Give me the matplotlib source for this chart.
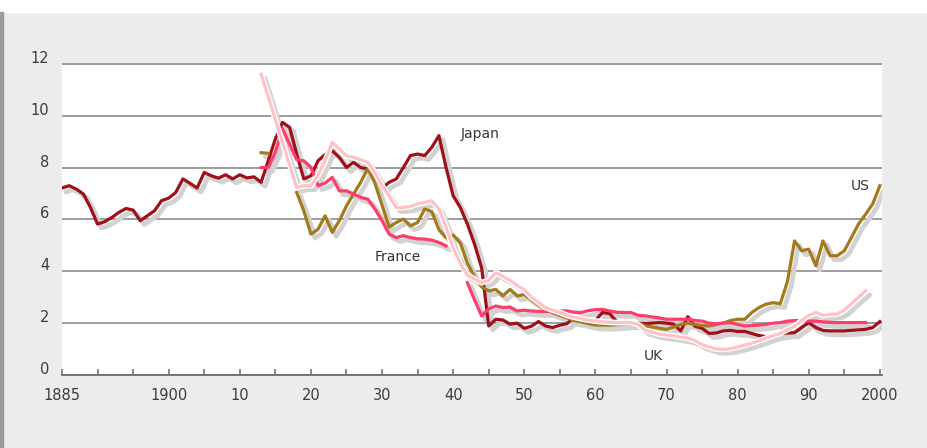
import numpy as np
import matplotlib
matplotlib.use("Agg")
import matplotlib.pyplot as plt
import matplotlib.transforms as mtransforms
import matplotlib.patheffects as pe
from matplotlib.patches import Rectangle

nan = np.nan

# Japan, yearly 1885-2000
japan_years = list(range(1885, 2001))
japan = [7.21, 7.30, 7.17, 6.98, 6.46, 5.82, 5.91, 6.07, 6.27, 6.42,   # 1885-94
         6.36, 5.95, 6.14, 6.33, 6.72, 6.82, 7.04, 7.56, 7.39, 7.21,   # 1895-04
         7.81, 7.68, 7.59, 7.72, 7.56, 7.72, 7.60, 7.64, 7.43, 8.26,   # 1905-14
         9.10, 9.74, 9.55, 8.52, 7.56, 7.68, 8.26, 8.50, 8.65, 8.39,   # 1915-24
         8.00, 8.20, 8.00, 7.95, 7.70, 7.20, 7.43, 7.56, 8.00, 8.46,   # 1925-34
         8.52, 8.46, 8.78, 9.23, 8.00, 6.91, 6.46, 5.82, 5.05, 4.14,   # 1935-44
         1.89, 2.15, 2.12, 1.96, 2.00, 1.80, 1.88, 2.06, 1.89, 1.83,   # 1945-54
         1.92, 1.98, 2.22, 2.15, 2.12, 2.10, 2.41, 2.37, 2.05, 2.02,   # 1955-64
         2.02, 2.00, 1.98, 2.00, 2.02, 2.00, 1.96, 1.70, 2.25, 1.88,   # 1965-74
         1.80, 1.60, 1.62, 1.70, 1.72, 1.68, 1.68, 1.60, 1.52, 1.48,   # 1975-84
         1.52, 1.58, 1.62, 1.63, 1.83, 2.02, 1.83, 1.72, 1.70, 1.70,   # 1985-94
         1.70, 1.72, 1.74, 1.76, 1.83, 2.06]                           # 1995-00

# US, yearly 1913-2000
us_years = list(range(1913, 2001))
us = [8.57, 8.55, nan, nan, nan, 7.04, 6.33, 5.43, 5.62, 6.14,        # 1913-22
      5.50, 5.95, 6.52, 6.98, 7.43, 7.97, 7.40, 6.55, 5.70, 5.88,     # 1923-32
      6.01, 5.75, 5.88, 6.40, 6.30, 5.60, 5.30, 5.40, 5.10, 4.30,     # 1933-42
      3.80, 3.40, 3.24, 3.30, 3.05, 3.30, 3.05, 3.10, 2.90, 2.70,     # 1943-52
      2.55, 2.40, 2.30, 2.20, 2.10, 2.05, 1.98, 1.93, 1.92, 1.92,     # 1953-62
      1.94, 1.96, 1.98, 2.00, 1.90, 1.85, 1.80, 1.76, 1.85, 1.95,     # 1963-72
      2.00, 1.95, 1.90, 1.89, 1.95, 2.00, 2.10, 2.15, 2.15, 2.41,     # 1973-82
      2.60, 2.73, 2.79, 2.75, 3.60, 5.17, 4.79, 4.85, 4.21, 5.17,     # 1983-92
      4.60, 4.60, 4.79, 5.30, 5.82, 6.20, 6.60, 7.30]                 # 1993-00

# France, yearly 1913-1998
france_years = list(range(1913, 1999))
france = [8.00, 8.00, 8.60, 9.50, 8.90, 8.30, 8.26, 8.00, 7.30, 7.40,  # 1913-22
          7.62, 7.10, 7.10, 6.98, 6.85, 6.78, 6.40, 5.95, 5.43, 5.30,  # 1923-32
          5.37, 5.30, 5.25, 5.24, 5.20, 5.11, 4.98, nan, nan, 3.56,    # 1933-42
          2.90, 2.28, 2.55, 2.66, 2.60, 2.62, 2.47, 2.50, 2.47, 2.45,  # 1943-52
          2.45, 2.45, 2.47, 2.47, 2.42, 2.41, 2.48, 2.52, 2.53, 2.47,  # 1953-62
          2.42, 2.41, 2.41, 2.30, 2.28, 2.24, 2.20, 2.15, 2.15, 2.15,  # 1963-72
          2.15, 2.10, 2.08, 2.00, 1.98, 2.00, 2.02, 1.95, 1.89, 1.90,  # 1973-82
          1.92, 1.95, 2.00, 2.02, 2.08, 2.10, 2.10, 2.08, 2.08, 2.05,  # 1983-92
          2.03, 2.02, 2.02, 2.02, 2.02, 2.02]                          # 1993-98

# UK, 1913 then yearly 1918-1998
uk_years = [1913] + list(range(1918, 1999))
uk = [11.60,                                                          # 1913
      7.23, 7.30, 7.30, 7.70, 8.26, 8.97, 8.71, 8.45, 8.39, 8.30,     # 1918-27
      8.20, 7.80, 7.30, 6.90, 6.46, 6.46, 6.50, 6.60, 6.65, 6.72,     # 1928-37
      6.40, 5.70, 4.90, 4.30, 3.85, 3.70, 3.56, 3.65, 3.95, 3.80,     # 1938-47
      3.65, 3.45, 3.28, 3.00, 2.80, 2.60, 2.50, 2.41, 2.30, 2.23,     # 1948-57
      2.17, 2.12, 2.08, 2.05, 2.03, 2.02, 2.02, 2.02, 1.95, 1.72,     # 1958-67
      1.65, 1.58, 1.54, 1.51, 1.46, 1.42, 1.33, 1.17, 1.08, 1.00,     # 1968-77
      0.99, 1.02, 1.08, 1.15, 1.23, 1.32, 1.42, 1.52, 1.60, 1.75,     # 1978-87
      1.88, 2.10, 2.30, 2.41, 2.30, 2.34, 2.35, 2.50, 2.75, 3.00,     # 1988-97
      3.24]                                                           # 1998

series = [
    ("Japan", japan_years, japan, "#a0101a"),
    ("US", us_years, us, "#a37a1c"),
    ("France", france_years, france, "#ff3d6d"),
    ("UK", uk_years, uk, "#ffc2c6"),
]

y_ticks = [0, 2, 4, 6, 8, 10, 12]
x_label_years = [1885, 1900, 1910, 1920, 1930, 1940, 1950, 1960, 1970, 1980, 1990, 2000]
x_labels = ["1885", "1900", "10", "20", "30", "40", "50", "60", "70", "80", "90", "2000"]
x_minor_years = list(range(1890, 2000, 5))

# line label positions (year, value)
name_pos = {"Japan": (1943.8, 9.3), "France": (1932.2, 4.55),
            "US": (1997.2, 7.3), "UK": (1968.1, 0.73)}

bg = "#ececec"
fig = plt.figure(figsize=(9.28, 4.48), dpi=100, facecolor=bg)
fig.patches.append(Rectangle((0, 1 - 12 / 448), 1, 12 / 448, transform=fig.transFigure,
                             color="white", zorder=0))
fig.patches.append(Rectangle((0, 0), 3 / 928, 1 - 12 / 448, transform=fig.transFigure,
                             color="#9c9c9c", zorder=0))

ax = fig.add_axes([62 / 928, 73 / 448, 820 / 928, 312 / 448])
ax.set_facecolor("white")
ax.set_xlim(1885, 2000.3)
ax.set_ylim(0, 12.03)

# soft drop shadows first, under every line
shadow_tr = mtransforms.offset_copy(ax.transData, fig=fig, x=4, y=-4, units="dots")
for name, yrs, vals, col in series:
    ax.plot(yrs, vals, color="#d2d2d2", lw=3.4, transform=shadow_tr,
            solid_capstyle="round", solid_joinstyle="round", zorder=1.5)

for i, (name, yrs, vals, col) in enumerate(series):
    kw = dict(color=col, lw=2.3, solid_joinstyle="round", zorder=2 + i)
    if name == "UK":
        kw["path_effects"] = [pe.Stroke(linewidth=4.2, foreground="white"), pe.Normal()]
    ax.plot(yrs, vals, **kw)

for name, (x, y) in name_pos.items():
    ax.text(x, y, name, ha="center", va="center", fontsize=10, color="#333333", zorder=10)

# grid and axes
ax.set_yticks(y_ticks)
ax.set_yticklabels([str(v) for v in y_ticks])
ax.yaxis.grid(True, color="#8c8c8c", lw=1.2)
ax.set_axisbelow(True)
for s in ["top", "left", "right"]:
    ax.spines[s].set_visible(False)
ax.spines["bottom"].set_color("#6e6e6e")
ax.spines["bottom"].set_linewidth(1.3)
ax.spines["bottom"].set_zorder(1)

ax.set_xticks(x_label_years)
ax.set_xticklabels(x_labels)
ax.set_xticks(x_minor_years, minor=True)
ax.tick_params(axis="x", which="both", direction="in", length=4.5, width=1.1,
               color="#6e6e6e", pad=9, labelsize=10.5, labelcolor="#3c3c3c")
ax.tick_params(axis="y", length=0, pad=9, labelsize=10.5, labelcolor="#3c3c3c")
for lbl in ax.get_yticklabels():
    lbl.set_transform(lbl.get_transform() +
                      mtransforms.ScaledTranslation(0, 5 / 72, fig.dpi_scale_trans))

fig.savefig("out.png", dpi=100, facecolor=bg)
